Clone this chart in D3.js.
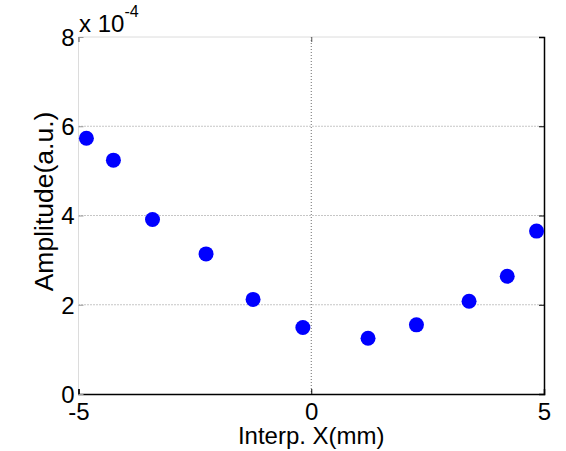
<!DOCTYPE html>
<html><head><meta charset="utf-8">
<script src="https://cdn.jsdelivr.net/npm/d3@7"></script>
<style>body{margin:0;background:#fff}svg{display:block}text{font-family:"Liberation Sans",Arial,sans-serif;fill:#000}</style>
</head><body>
<script>
const xValues = [-4.83, -4.25, -3.41, -2.26, -1.25, -0.18, 1.22, 2.26, 3.39, 4.21, 4.84];
const yValues = [5.73, 5.24, 3.91, 3.14, 2.12, 1.49, 1.25, 1.55, 2.08, 2.64, 3.65];
const xTicks = [-5, 0, 5];
const yTicks = [0, 2, 4, 6, 8];
const xLabel = "Interp. X(mm)";
const yLabel = "Amplitude(a.u.)";

const W = 566, H = 451;
const L = 78.5, R = 544, T = 37, B = 394;
const svg = d3.select("body").append("svg").attr("width", W).attr("height", H);
const x = d3.scaleLinear().domain([-5, 5]).range([L, R]);
const y = d3.scaleLinear().domain([0, 8]).range([B, T]);
const fmt = d => String(d);

// grid
const g = svg.append("g");
g.selectAll("line.gy").data(yTicks.filter(d => d > 0 && d < 8)).enter().append("line")
  .attr("x1", L).attr("x2", R).attr("y1", d => y(d)).attr("y2", d => y(d))
  .attr("stroke", "#8c8c8c").attr("stroke-width", 1).attr("stroke-dasharray", "1,2");
g.selectAll("line.gx").data(xTicks.filter(d => d > -5 && d < 5)).enter().append("line")
  .attr("y1", T).attr("y2", B).attr("x1", d => x(d)).attr("x2", d => x(d))
  .attr("stroke", "#6e6e6e").attr("stroke-width", 1).attr("stroke-dasharray", "1,2");

// borders
svg.append("line").attr("x1", L).attr("x2", R).attr("y1", T).attr("y2", T).attr("stroke", "#dcdcdc");
svg.append("line").attr("x1", L).attr("x2", L).attr("y1", T).attr("y2", B).attr("stroke", "#dcdcdc");

// axes
const xAxis = svg.append("g").attr("transform", `translate(0,${B})`)
  .call(d3.axisBottom(x).tickValues(xTicks).tickSize(-5).tickPadding(13).tickFormat(fmt));
const xTop = svg.append("g").attr("transform", `translate(0,${T})`)
  .call(d3.axisTop(x).tickValues(xTicks).tickSize(-5).tickFormat(""));
xTop.select(".domain").remove();
xTop.selectAll("line").attr("stroke", "#555");
const yAxis = svg.append("g").attr("transform", `translate(${L},0)`)
  .call(d3.axisLeft(y).tickValues(yTicks).tickSize(-5).tickPadding(4).tickFormat(fmt));
yAxis.select(".domain").remove();
yAxis.selectAll(".tick line").attr("stroke", "#999");
yAxis.selectAll(".tick text").attr("x", -4);
const yRight = svg.append("g").attr("transform", `translate(${R},0)`)
  .call(d3.axisRight(y).tickValues(yTicks).tickSize(-5).tickFormat(""));
[xAxis, yAxis].forEach(a => a.selectAll("text").attr("font-size", 24).attr("font-family", "Liberation Sans, Arial, sans-serif").attr("fill", "#000"));
xAxis.selectAll(".tick text").attr("dy", 0).attr("y", 26);
yAxis.selectAll(".tick text").attr("dy", "0.35em");
xAxis.select(".domain").attr("stroke", "#000").attr("stroke-width", 1.5);
yRight.select(".domain").attr("stroke", "#000").attr("stroke-width", 1.5);

// exponent
const ex = svg.append("text").attr("x", 79).attr("y", 32).attr("font-size", 24);
ex.append("tspan").text("x 10");
ex.append("tspan").attr("dy", -15).attr("font-size", 16).text("-4");

// labels
svg.append("text").attr("x", (L + R) / 2).attr("y", 444).attr("text-anchor", "middle").attr("font-size", 24).text(xLabel);
svg.append("text").attr("transform", `translate(53,201.5) rotate(-90)`).attr("text-anchor", "middle").attr("font-size", 26.5).text(yLabel);

// points
svg.append("g").selectAll("circle").data(xValues.map((d, i) => [d, yValues[i]])).enter().append("circle")
  .attr("cx", d => x(d[0])).attr("cy", d => y(d[1])).attr("r", 7.5).attr("fill", "#0000ff");
</script>
</body></html>
